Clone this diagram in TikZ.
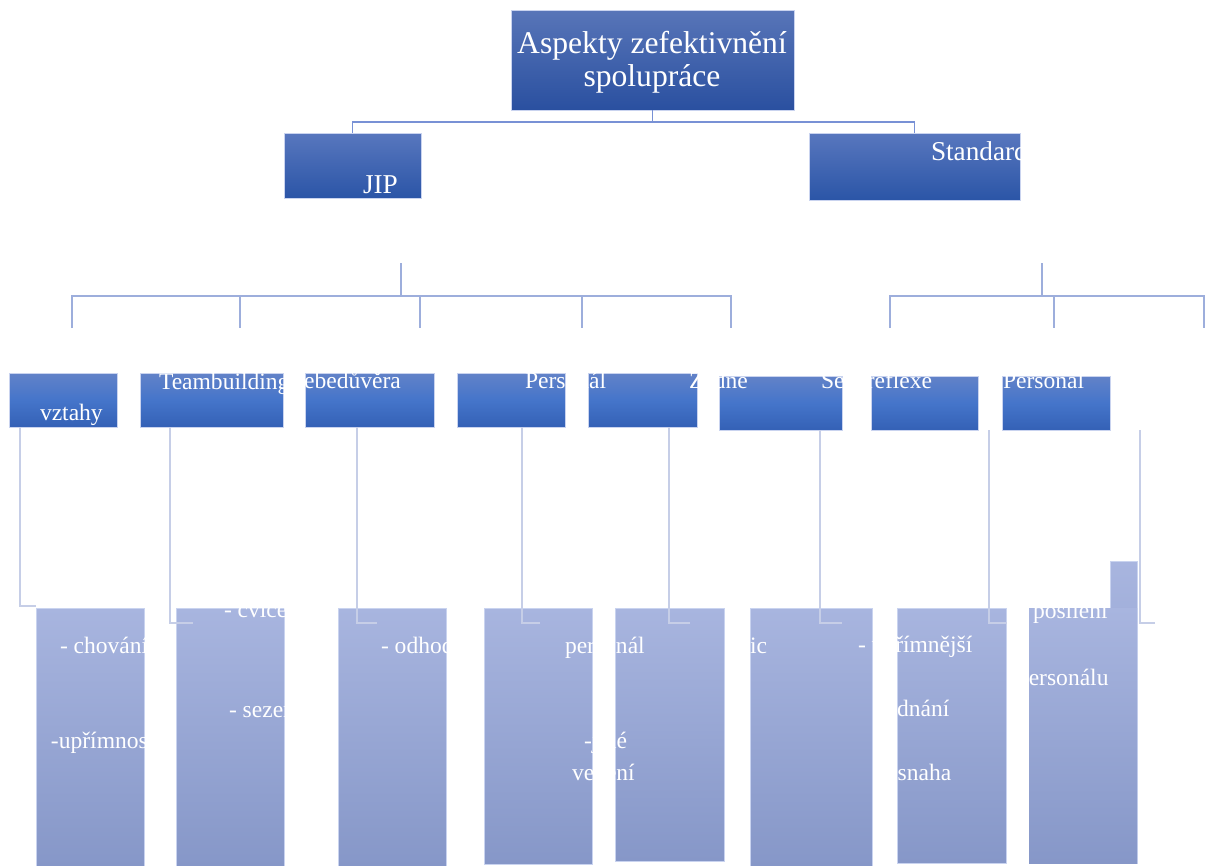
\documentclass[tikz,border=0pt]{standalone}
\usepackage{fontspec}
\setmainfont{Liberation Serif}
\usetikzlibrary{fit}
\definecolor{rootA}{HTML}{5875B8}
\definecolor{rootB}{HTML}{2A50A0}
\definecolor{hdrA}{HTML}{5877BE}
\definecolor{hdrB}{HTML}{2B55A7}
\definecolor{midA}{HTML}{6282C8}
\definecolor{midM}{HTML}{4575CA}
\definecolor{midB}{HTML}{3461B6}
\definecolor{lowA}{HTML}{A8B5DF}
\definecolor{lowB}{HTML}{8697C8}
\definecolor{edge}{HTML}{C9D3EF}
\definecolor{connA}{HTML}{7891D5}
\definecolor{connB}{HTML}{9DAEDC}
\definecolor{connC}{HTML}{C6CEE7}
\tikzset{
  x=0.02cm, y=-0.02cm,
  boxbase/.style={inner sep=0pt, outer sep=0pt, draw=edge, line width=0.4pt},
  rootbox/.style={boxbase, top color=rootA, bottom color=rootB},
  hdrbox/.style={boxbase, top color=hdrA, bottom color=hdrB},
  midbox/.style={boxbase, top color=midA, bottom color=midB, middle color=midM},
  lowbox/.style={boxbase, top color=lowA, bottom color=lowB},
  connone/.style={draw=connA, line width=0.8pt},
  conntwo/.style={draw=connB, line width=1.4pt},
  connthree/.style={draw=connC, line width=1.4pt},
  txt/.style={text=white, inner sep=0pt, outer sep=0pt, anchor=base west, font=\fontsize{13.4}{16}\selectfont},
  hdrtxt/.style={txt, font=\fontsize{15.5}{18}\selectfont},
  bigtxt/.style={text=white, inner sep=0pt, anchor=base, align=center, font=\fontsize{18}{18.7}\selectfont}
}
\begin{document}
\begin{tikzpicture}
\useasboundingbox (0,0) rectangle (1208,866);
% ---------- boxes ----------
\node[rootbox, fit={(511,10)(794,110)}] (root) {};
\node[hdrbox, fit={(284,133)(421,198)}] (jip) {};
\node[hdrbox, fit={(809,133)(1020,200)}] (std) {};
% row 3
\node[midbox, fit={(9,373)(117,427)}] (r1) {};
\node[midbox, fit={(140,373)(283,427)}] (r2) {};
\node[midbox, fit={(305,373)(434,427)}] (r3) {};
\node[midbox, fit={(457,373)(565,427)}] (r4) {};
\node[midbox, fit={(588,373)(697,427)}] (r5) {};
\node[midbox, fit={(719,376)(842,430)}] (r6) {};
\node[midbox, fit={(871,376)(978,430)}] (r7) {};
\node[midbox, fit={(1002,376)(1110,430)}] (r8) {};
% bottom row
\node[lowbox, fit={(36,608)(144,866)}] (b1) {};
\node[lowbox, fit={(176,608)(284,866)}] (b2) {};
\node[lowbox, fit={(338,608)(446,866)}] (b3) {};
\node[lowbox, fit={(484,608)(592,864)}] (b4) {};
\node[lowbox, fit={(615,608)(724,861)}] (b5) {};
\node[lowbox, fit={(750,608)(872,866)}] (b6) {};
\node[lowbox, fit={(897,608)(1006,863)}] (b7) {};
\node[lowbox, fit={(1110,561)(1137,863)}] (b8t) {};
\node[lowbox, draw=none, fit={(1029,608)(1137,863)}] (b8) {};
% ---------- connectors ----------
\draw[connone] (root.south) -- ++(0,12) -| (jip.north);
\draw[connone] (root.south) -- ++(0,12) -| (std.north);
% left group
\coordinate (ls) at (401,263);
\coordinate (lh) at (401,296);
\coordinate (la1) at (72,296);  \coordinate (ld1) at (72,328);
\coordinate (la2) at (240,296); \coordinate (ld2) at (240,328);
\coordinate (la3) at (420,296); \coordinate (ld3) at (420,328);
\coordinate (la4) at (582,296); \coordinate (ld4) at (582,328);
\coordinate (la5) at (731,296); \coordinate (ld5) at (731,328);
\draw[conntwo] (ls) -- (lh);
\draw[conntwo] (ld1) -- (la1) -- (la5) -- (ld5);
\draw[conntwo] (la2) -- (ld2);
\draw[conntwo] (la3) -- (ld3);
\draw[conntwo] (la4) -- (ld4);
% right group
\coordinate (rs) at (1042,263);
\coordinate (rh) at (1042,296);
\coordinate (ra1) at (890,296);  \coordinate (rd1) at (890,328);
\coordinate (ra2) at (1054,296); \coordinate (rd2) at (1054,328);
\coordinate (ra3) at (1204,296); \coordinate (rd3) at (1204,328);
\draw[conntwo] (rs) -- (rh);
\draw[conntwo] (rd1) -- (ra1) -- (ra3) -- (rd3);
\draw[conntwo] (ra2) -- (rd2);
% row 3 to bottom
\coordinate (a1) at (20,427);   \coordinate (e1) at (36,606);
\coordinate (a2) at (170,427);  \coordinate (e2) at (193,623);
\coordinate (a3) at (357,427);  \coordinate (e3) at (377,623);
\coordinate (a4) at (522,427);  \coordinate (e4) at (540,623);
\coordinate (a5) at (669,427);  \coordinate (e5) at (690,623);
\coordinate (a6) at (820,430);  \coordinate (e6) at (842,623);
\coordinate (a7) at (989,430);  \coordinate (e7) at (1007,623);
\coordinate (a8) at (1140,430); \coordinate (e8) at (1155,623);
\foreach \i in {1,...,8} {\draw[connthree] (a\i) |- (e\i);}
% ---------- texts ----------
\node[bigtxt] (troot) at (652,86) {Aspekty zefektivnění\\spolupráce};
\node[hdrtxt] (tjip) at (363,193) {JIP};
\node[hdrtxt] (tstd) at (931,160) {Standard};
\node[txt] (t1) at (40,420) {vztahy};
\node[txt] (t2) at (159,389) {Teambuilding};
\node[txt] (t3) at (291,388) {Sebedůvěra};
\node[txt] (t4) at (525,388) {Personál};
\node[txt] (t5) at (689,388) {Žádné};
\node[txt] (t6) at (821,388) {Sebereflexe};
\node[txt] (t8) at (1003,388) {Personal};
% bottom texts
\node[txt] (u1) at (60,653) {- chování};
\node[txt] (u2) at (51,748) {-upřímnost};
\node[txt] (u3) at (224,617) {- cvičení};
\node[txt] (u4) at (229,717) {- sezení};
\begin{scope}
\clip (b3.south west) rectangle (b3.north east);
\node[txt] (u5) at (381,653) {- odhodlání};
\end{scope}
\node[txt] (u6) at (565,653) {personál};
\node[txt] (u7) at (584,748) {-jiné};
\node[txt] (u8) at (572,780) {vedení};
\node[txt] (u9) at (750,653) {ic};
\node[txt] (u10) at (858,652) {- upřímnější};
\node[txt] (u11) at (880,716) {jednání};
\node[txt] (u12) at (884,780) {- snaha};
\node[txt] (u13) at (1033,618) {posílení};
\node[txt] (u14) at (1017,685) {personálu};
\end{tikzpicture}
\end{document}
